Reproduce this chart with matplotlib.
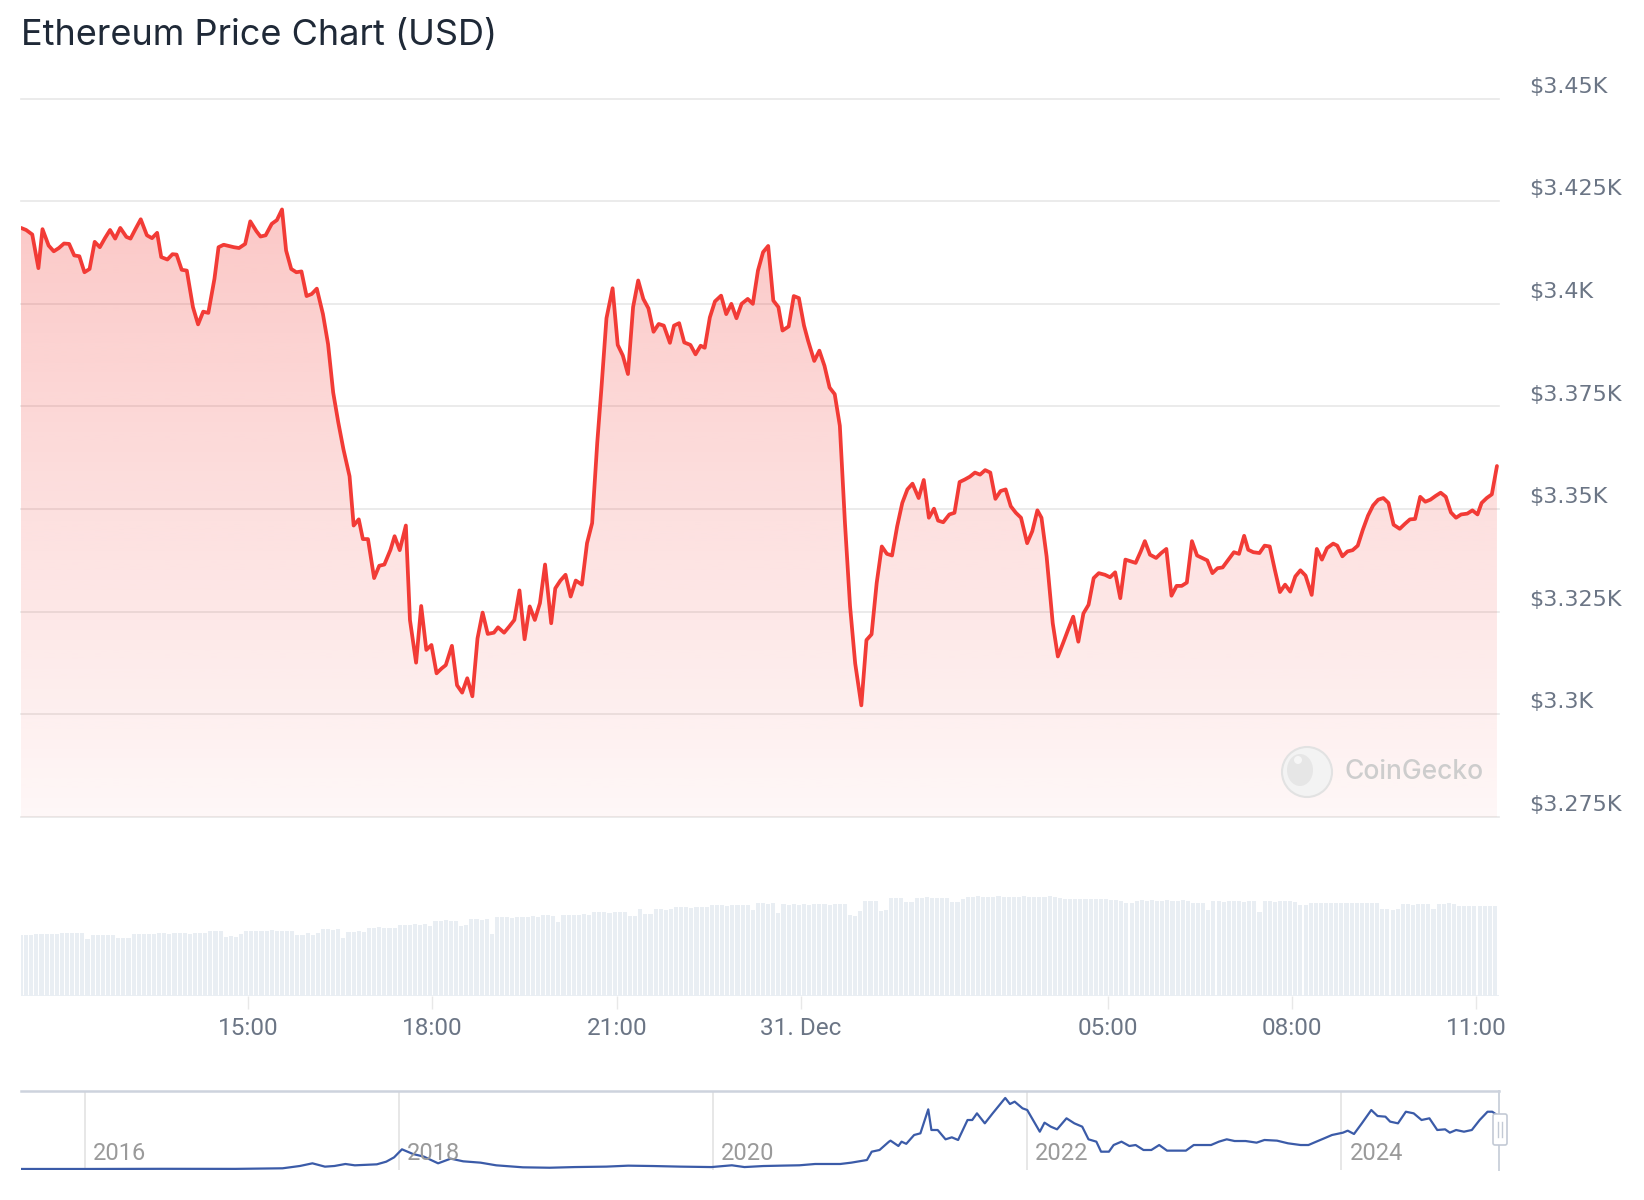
import matplotlib.pyplot as plt
import matplotlib.colors as mcolors
import matplotlib.patches as mpatches
from matplotlib.transforms import IdentityTransform
import numpy as np

# ---- data ----
start_clock = 11 * 60 + 18  # first sample: 11:18 on 30 Dec, minutes after midnight

price_minutes = [
    0, 5, 11, 17, 21, 27, 32, 37, 42, 47,
    52, 57, 62, 67, 72, 77, 82, 87, 92, 97,
    103, 107, 112, 117, 123, 128, 133, 137, 143, 148,
    152, 157, 162, 168, 173, 178, 183, 189, 193, 198,
    203, 208, 213, 219, 224, 230, 234, 239, 245, 250,
    255, 259, 264, 269, 274, 279, 284, 289, 295, 300,
    305, 310, 315, 321, 325, 330, 334, 339, 345, 350,
    355, 361, 365, 370, 376,
    380, 386, 391, 396, 401, 406, 411, 415, 421, 426,
    431, 436, 441, 446, 451, 456, 462, 466, 472, 477,
    482, 487, 492, 497, 502, 507, 512, 518, 522, 527,
    532, 537, 542, 548, 553, 558, 563, 567, 572, 578,
    583, 588, 593, 598, 603, 608, 613, 618, 623, 628,
    634, 638, 643, 648, 654, 659, 664, 668, 673, 678,
    684, 689, 694, 699, 704, 710, 715, 720, 725, 730,
    735, 740, 744, 750, 755, 760,
    765, 769, 775, 780, 785, 790, 795, 800, 805, 810,
    815, 821, 826, 831, 836, 841, 846, 851, 856, 861,
    866, 871, 877, 882, 887, 892, 896, 901, 907, 912,
    917, 922, 927, 932, 937, 942, 947, 952, 957, 962,
    967, 972, 977, 983, 988, 993, 997, 1002, 1008, 1013,
    1018, 1023, 1028, 1033, 1038, 1043, 1048, 1053, 1059, 1064,
    1069, 1074, 1079, 1084, 1089, 1094, 1098, 1103, 1109, 1114,
    1119, 1124, 1129, 1134, 1139,
    1144, 1149, 1154, 1159, 1164, 1169, 1174, 1179, 1185, 1190,
    1195, 1199, 1204, 1210, 1215, 1220, 1225, 1230, 1235, 1240,
    1245, 1250, 1255, 1261, 1266, 1271, 1276, 1282, 1286, 1291,
    1296, 1301, 1306, 1311, 1316, 1321, 1326, 1331, 1336, 1341,
    1347, 1352, 1357, 1362, 1367, 1372, 1377, 1382, 1387, 1392,
    1397, 1402, 1407, 1413, 1418, 1423, 1427, 1432, 1437, 1442,
]

prices = [
    3418.5, 3418.0, 3416.9, 3408.7, 3418.2, 3414.2, 3412.8, 3413.6, 3414.7, 3414.6,
    3411.8, 3411.6, 3407.7, 3408.5, 3415.1, 3413.8, 3416.0, 3418.0, 3415.9, 3418.5,
    3416.3, 3415.9, 3418.3, 3420.6, 3416.7, 3416.0, 3417.3, 3411.4, 3410.8, 3412.1,
    3412.0, 3408.3, 3408.1, 3399.2, 3395.0, 3398.1, 3397.8, 3406.1, 3413.8, 3414.4,
    3414.1, 3413.8, 3413.6, 3414.6, 3420.1, 3417.7, 3416.4, 3416.7, 3419.5, 3420.4,
    3423.0, 3413.0, 3408.5, 3407.7, 3407.9, 3401.9, 3402.4, 3403.7, 3397.5, 3390.2,
    3378.4, 3371.1, 3364.6, 3358.0, 3346.0, 3347.5, 3342.7, 3342.7, 3333.2, 3336.2,
    3336.5, 3340.1, 3343.4, 3340.0, 3346.0,
    3323.0, 3312.6, 3326.4, 3315.7, 3316.9, 3310.0, 3311.2, 3312.0, 3316.7, 3307.1,
    3305.3, 3308.8, 3304.4, 3318.5, 3324.8, 3319.6, 3319.9, 3321.2, 3319.9, 3321.4,
    3323.0, 3330.2, 3318.3, 3326.3, 3323.0, 3327.1, 3336.5, 3322.2, 3330.7, 3332.6,
    3334.0, 3328.7, 3332.6, 3331.6, 3341.7, 3346.6, 3366.2, 3379.2, 3396.5, 3403.8,
    3390.0, 3387.4, 3382.9, 3399.2, 3405.7, 3401.2, 3398.9, 3393.2, 3395.1, 3394.7,
    3390.5, 3394.7, 3395.3, 3390.6, 3390.0, 3387.7, 3389.8, 3389.3, 3396.7, 3400.6,
    3402.0, 3397.5, 3400.0, 3396.5, 3400.0, 3401.2, 3400.0, 3408.1, 3412.6, 3414.1,
    3400.8, 3399.2, 3393.5, 3394.5, 3401.9, 3401.4,
    3394.7, 3391.0, 3386.1, 3388.6, 3384.9, 3379.6, 3378.0, 3370.3, 3346.6, 3326.3,
    3312.4, 3302.2, 3318.1, 3319.5, 3332.0, 3340.9, 3339.1, 3338.7, 3345.8, 3351.5,
    3354.8, 3356.2, 3352.7, 3357.1, 3347.9, 3350.1, 3347.2, 3346.8, 3348.7, 3349.1,
    3356.6, 3357.2, 3357.9, 3358.9, 3358.4, 3359.5, 3358.9, 3352.5, 3354.4, 3354.8,
    3350.7, 3349.1, 3347.9, 3341.7, 3344.6, 3349.7, 3347.9, 3338.5, 3322.2, 3314.1,
    3317.3, 3320.6, 3323.8, 3317.7, 3324.6, 3326.7, 3333.2, 3334.4, 3334.0, 3333.4,
    3334.6, 3328.3, 3337.7, 3337.3, 3336.9, 3339.7, 3342.2, 3338.9, 3338.1, 3339.3,
    3340.3, 3328.9, 3331.3, 3331.3, 3332.1,
    3342.2, 3338.7, 3338.1, 3337.5, 3334.4, 3335.6, 3335.8, 3337.5, 3339.5, 3339.1,
    3343.5, 3340.1, 3339.5, 3339.3, 3341.1, 3340.9, 3335.2, 3329.8, 3331.6, 3329.9,
    3333.6, 3335.1, 3333.8, 3329.1, 3340.3, 3337.7, 3340.5, 3341.6, 3341.1, 3338.5,
    3339.7, 3340.0, 3341.1, 3345.0, 3348.4, 3350.9, 3352.3, 3352.7, 3351.5, 3346.2,
    3345.2, 3346.4, 3347.5, 3347.6, 3353.0, 3351.8, 3352.3, 3353.2, 3354.0, 3353.0,
    3349.2, 3347.9, 3348.7, 3348.9, 3349.7, 3348.7, 3351.5, 3352.7, 3353.6, 3360.5,
]

# 24h volume, one bar per 5 minutes (relative units)
volume = [
    61, 61, 61, 62, 62, 62, 62, 62, 63, 63, 63, 63, 63, 57, 61, 61, 61, 61, 61, 58,
    58, 58, 62, 62, 62, 62, 62, 63, 63, 62, 63, 63, 63, 62, 63, 63, 63, 65, 65, 65,
    59, 60, 59, 62, 65, 65, 65, 65, 65, 66, 65, 65, 65, 65, 61, 61, 63, 61, 63, 67,
    67, 66, 67, 58, 64, 64, 65, 64, 68, 68, 69, 68, 68, 68, 71, 71, 71, 72, 71, 72,
    70, 75, 75, 76, 75, 75, 70, 71, 77, 77, 76, 77, 62, 79, 79, 79, 78, 79, 79, 79,
    80, 79, 81, 81, 80, 74, 81, 81, 81, 81, 82, 81, 84, 84, 84, 83, 84, 84, 84, 80,
    80, 87, 82, 82, 87, 87, 86, 87, 89, 89, 89, 88, 89, 89, 89, 91, 91, 91, 90, 91,
    91, 91, 91, 86, 93, 93, 92, 93, 83, 92, 91, 92, 91, 92, 91, 92, 92, 92, 91, 92,
    92, 92, 81, 80, 85, 95, 95, 95, 85, 86, 98, 98, 98, 94, 94, 98, 98, 99, 98, 98,
    98, 98, 94, 94, 97, 99, 99, 100, 99, 99, 99, 100, 99, 99, 99, 99, 100, 99, 99, 99,
    99, 100, 99, 98, 97, 97, 97, 97, 97, 97, 97, 97, 97, 96, 96, 95, 93, 93, 95, 96,
    95, 96, 95, 95, 96, 95, 95, 96, 95, 93, 93, 93, 86, 95, 95, 94, 95, 95, 95, 94,
    95, 95, 84, 95, 95, 94, 95, 95, 95, 94, 91, 91, 93, 93, 93, 93, 93, 93, 93, 93,
    93, 93, 93, 93, 93, 93, 87, 87, 86, 87, 92, 92, 91, 92, 92, 92, 87, 92, 92, 93,
    92, 90, 90, 90, 90, 90, 90, 90, 90,
]

tick_hours = [15, 18, 21, 24, 29, 32, 35]
tick_labels = ["15:00", "18:00", "21:00", "31. Dec", "05:00", "08:00", "11:00"]

price_ticks = [3275, 3300, 3325, 3350, 3375, 3400, 3425, 3450]
price_tick_labels = ["$3.275K", "$3.3K", "$3.325K", "$3.35K", "$3.375K",
                     "$3.4K", "$3.425K", "$3.45K"]

# navigator: full history (year, USD)
nav_years = [
    2015.60, 2016.00, 2016.50, 2016.96, 2017.26, 2017.37, 2017.45, 2017.53, 2017.59, 2017.66,
    2017.72, 2017.86, 2017.92, 2017.97, 2018.02, 2018.09, 2018.16, 2018.25, 2018.33, 2018.41,
    2018.52, 2018.62, 2018.79, 2018.96, 2019.12, 2019.32, 2019.46, 2019.62, 2019.79, 2019.99,
    2020.12, 2020.20, 2020.32, 2020.45, 2020.55, 2020.65, 2020.81, 2020.88, 2020.98, 2021.01,
    2021.06, 2021.12, 2021.13, 2021.18, 2021.20, 2021.23, 2021.28, 2021.32, 2021.37, 2021.39,
    2021.43, 2021.48, 2021.52, 2021.56, 2021.62, 2021.65, 2021.68, 2021.73, 2021.78, 2021.86,
    2021.89, 2021.92, 2021.97, 2022.00, 2022.08, 2022.11, 2022.15, 2022.19, 2022.25, 2022.30,
    2022.35, 2022.39, 2022.44, 2022.47, 2022.52, 2022.55, 2022.60, 2022.65, 2022.69, 2022.74,
    2022.79, 2022.84, 2022.89, 2022.95, 2023.01, 2023.06, 2023.12, 2023.17, 2023.22, 2023.27,
    2023.32, 2023.39, 2023.46, 2023.51, 2023.59, 2023.66, 2023.74, 2023.79, 2023.84, 2023.89,
    2023.94, 2024.01, 2024.04, 2024.08, 2024.13, 2024.19, 2024.23, 2024.28, 2024.31, 2024.36,
    2024.41, 2024.46, 2024.51, 2024.56, 2024.61, 2024.66, 2024.69, 2024.73, 2024.78, 2024.83,
    2024.88, 2024.93, 2024.96, 2024.99,
]
nav_prices = [
    1, 1, 12, 8, 47, 203, 383, 158, 203, 338,
    248, 315, 495, 788, 1330, 1013, 833, 383, 698, 518,
    428, 248, 113, 85, 130, 160, 225, 200, 160, 130,
    250, 130, 200, 230, 250, 338, 338, 428, 608, 1170,
    1284, 1847, 1915, 1554, 1847, 1700, 2297, 2410, 4030, 2635,
    2635, 2005, 2140, 1960, 3310, 3310, 3760, 3085, 3760, 4800,
    4390, 4550, 4100, 3985, 2520, 3130, 2860, 2680, 3425, 3085,
    2860, 2005, 1847, 1170, 1170, 1620, 1847, 1554, 1620, 1284,
    1284, 1620, 1240, 1240, 1240, 1620, 1620, 1620, 1847, 2005,
    1890, 1890, 1780, 1960, 1915, 1735, 1620, 1620, 1847, 2070,
    2297, 2455, 2590, 2365, 3085, 3985, 3580, 3535, 3200, 3085,
    3870, 3760, 3310, 3425, 2635, 2680, 2455, 2635, 2520, 2635,
    3310, 3870, 3870, 3650,
]
nav_year_ticks = [2016, 2018, 2020, 2022, 2024]

# ---- figure ----
W, H = 1644, 1200
fig = plt.figure(figsize=(W / 100, H / 100), dpi=100)
fig.patch.set_facecolor("white")

red = "#f23b36"
grid_c = "#e8e8e8"
label_c = "#6b7585"


def px_axes(l, t, r, b):
    # axes placed by pixel box (left, top, right, bottom)
    return fig.add_axes([l / W, 1 - b / H, (r - l) / W, (b - t) / H])


def clean(ax):
    for s in ax.spines.values():
        s.set_visible(False)
    ax.set_xticks([])
    ax.set_yticks([])
    ax.patch.set_alpha(0)


xmax = 1444

# price panel
ax = px_axes(21, 98.6, 1499, 817)
clean(ax)
for v in price_ticks:
    ax.axhline(v, color=grid_c, lw=1.2, zorder=0, clip_on=False)

poly = ax.fill_between(price_minutes, prices, 3275, color="none", lw=0)
grad = np.zeros((256, 1, 4))
grad[..., :3] = mcolors.to_rgb(red)
grad[:, 0, 3] = np.linspace(0.28, 0.04, 256)
im = ax.imshow(grad, extent=[0, price_minutes[-1], 3275, max(prices)],
               aspect="auto", origin="upper", zorder=1, interpolation="bilinear")
im.set_clip_path(poly.get_paths()[0], transform=ax.transData)
ax.plot(price_minutes, prices, color=red, lw=2.7, zorder=3,
        solid_joinstyle="round", solid_capstyle="round")
ax.set_xlim(0, xmax)
ax.set_ylim(3275, 3450)

for v, lab in zip(price_ticks, price_tick_labels):
    ax.annotate(lab, xy=(1, v), xycoords=("axes fraction", "data"),
                xytext=(22, 8.6), textcoords="offset points",
                ha="left", va="center", fontsize=16, color=label_c,
                family="DejaVu Sans", annotation_clip=False)

# volume panel
axv = px_axes(21, 896, 1499, 996)
clean(axv)
bar_minutes = np.arange(len(volume)) * 5
axv.bar(bar_minutes, volume, width=4.0, color="#e9eef3", lw=0)
axv.axhline(0, color="#e9eef3", lw=1.2)
axv.set_xlim(0, xmax)
axv.set_ylim(0, 100)
tick_pos = [h * 60 - start_clock for h in tick_hours]
axv.set_xticks(tick_pos)
axv.set_xticklabels(tick_labels, fontfamily="Roboto")
axv.tick_params(axis="x", length=9, width=1, color=grid_c, pad=6,
                labelsize=17.5, labelcolor=label_c)

# navigator
axn = px_axes(21, 1091, 1499, 1170)
clean(axn)
axn.set_xlim(2015.595, 2025.003)
axn.set_ylim(-68, 5270)
for yr in nav_year_ticks:
    axn.axvline(yr, color="#e3e3e3", lw=1.2, zorder=0)
    axn.annotate(str(yr), xy=(yr, 0), xycoords=("data", "axes fraction"),
                 xytext=(5.8, 12.2), textcoords="offset points",
                 ha="left", va="center", fontsize=17, color="#9a9a9a",
                 family="Roboto")
axn.plot(nav_years, nav_prices, color="#3b5ba8", lw=1.6, zorder=2)
axn.plot([0, 1], [1, 1], transform=axn.transAxes, color="#cdd3dd", lw=1.8,
         clip_on=False)
axn.plot([1, 1], [0, 1], transform=axn.transAxes, color="#cdd3dd", lw=1.4,
         clip_on=False)

# navigator handle (display pixels, y from bottom)
handle = mpatches.FancyBboxPatch((1493, H - 1145), 14, 31,
                                 boxstyle="round,pad=0,rounding_size=2",
                                 fc="white", ec="#c3cad5", lw=1.2,
                                 transform=IdentityTransform(), zorder=5)
fig.add_artist(handle)
for hx in (1498, 1502):
    fig.add_artist(plt.Line2D([hx, hx], [H - 1137, H - 1122], color="#c3cad5",
                              lw=1, transform=IdentityTransform(), zorder=6))

# watermark
fig.add_artist(mpatches.Circle((1307, H - 772), 25, fc="#f3f3f3", ec="#e2e2e2",
                               lw=1.5, transform=IdentityTransform(), zorder=4))
fig.add_artist(mpatches.Ellipse((1300, H - 770), 26, 32, fc="#e6e6e6", ec="none",
                                transform=IdentityTransform(), zorder=4))
fig.add_artist(mpatches.Circle((1298, H - 760), 4, fc="#f6f6f6", ec="none",
                               transform=IdentityTransform(), zorder=5))
fig.text(1344 / W, 1 - 772 / H, "CoinGecko", fontsize=19, color="#cdcdcd",
         family="Inter", fontweight="medium", va="center", ha="left")

# title
fig.text(21 / W, 1 - 35 / H, "Ethereum Price Chart (USD)", fontsize=26,
         family="Inter", color="#1f2937", va="center", ha="left")

fig.savefig("out.png", dpi=100)
